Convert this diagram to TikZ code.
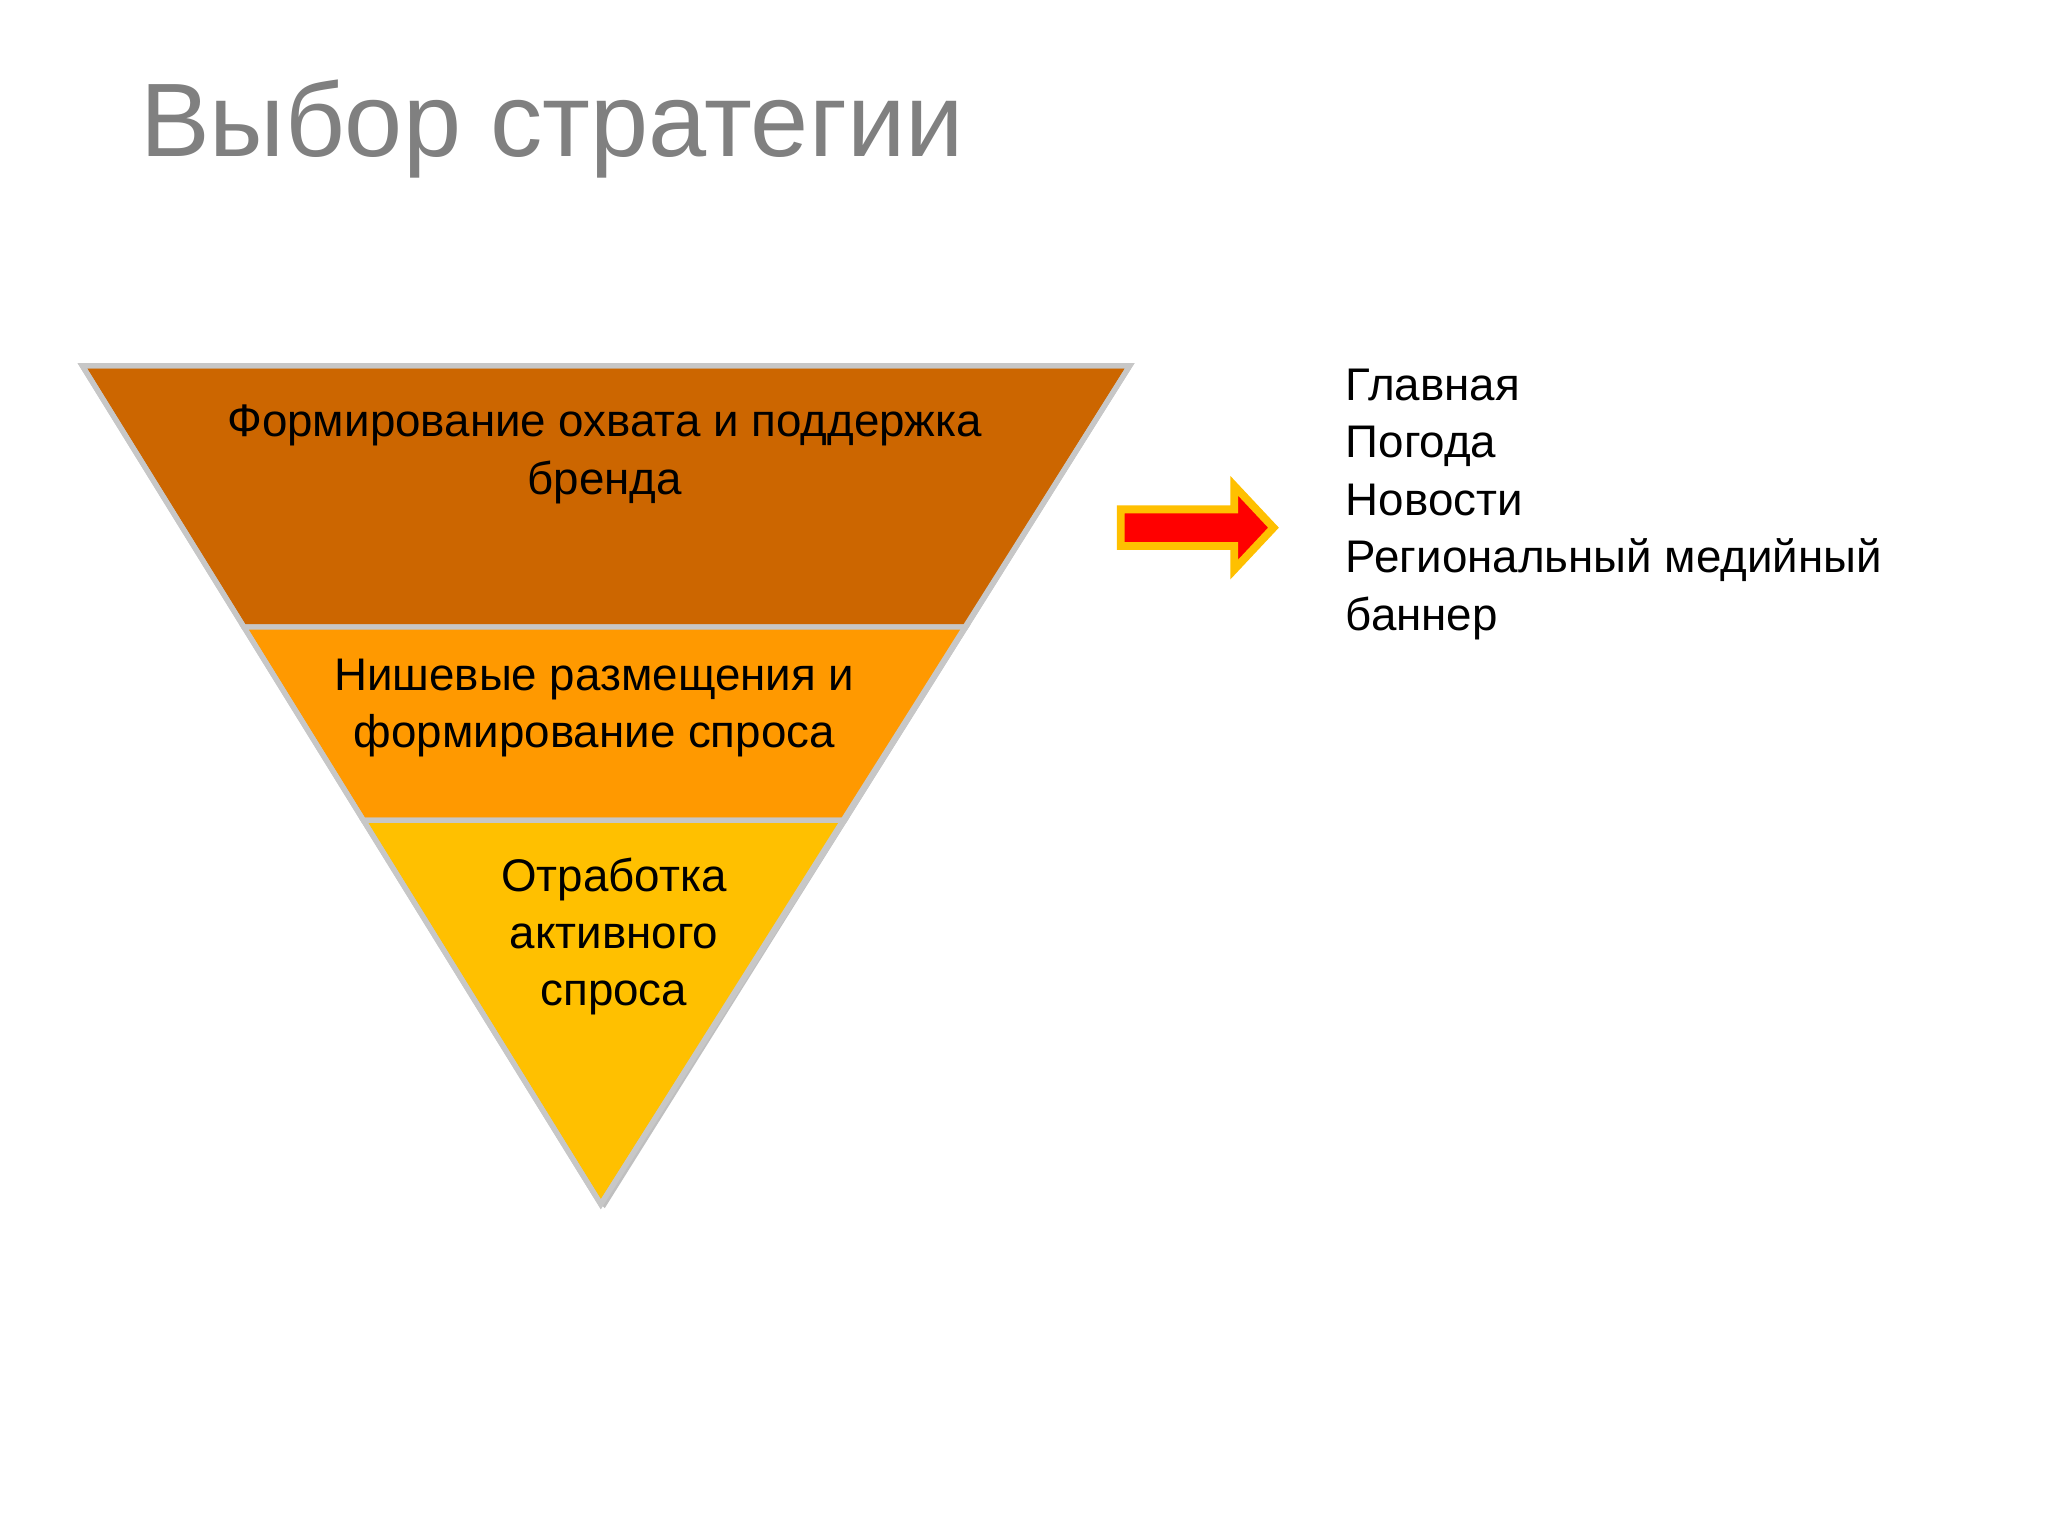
\documentclass[tikz,border=0pt]{standalone}
\usepackage{fontspec}
\setmainfont{Liberation Sans}
\begin{document}
\begin{tikzpicture}[x=0.5pt,y=-0.5pt,
  band/.style={draw=black!22,line width=2pt,line join=miter},
  txt/.style={font=\fontsize{17.5}{22}\selectfont,align=center,inner sep=0pt}]
\useasboundingbox (0,0) rectangle (1568,1176);
\fill[white] (0,0) rectangle (1568,1176);
\node[anchor=base west,text=black!50,font=\fontsize{40}{48}\selectfont,inner sep=0pt] (title) at (107,120) {Выбор стратегии};
% shadow
\fill[black!25] (867,280) -- (463,925) -- (460,922) -- (865,280) -- cycle;
\fill[band,fill={rgb,255:red,204;green,102;blue,0}] (63,280) -- (865,280) -- (739.5,480) -- (186.7,480) -- cycle;
\fill[band,fill={rgb,255:red,255;green,153;blue,0}] (186.7,480) -- (739.5,480) -- (646.6,628) -- (278.2,628) -- cycle;
\fill[band,fill={rgb,255:red,255;green,192;blue,0}] (278.2,628) -- (646.6,628) -- (460,922) -- cycle;
\draw[band] (63,280) -- (865,280) -- (460,922) -- cycle;
\node[txt] (b1) at (463,348) {Формирование охвата и поддержка\\бренда};
\node[txt] (b2) at (455,542) {Нишевые размещения и\\формирование спроса};
\node[txt] (b3) at (470,717) {Отработка\\активного\\спроса};
\draw[fill=red,draw={rgb,255:red,255;green,192;blue,0},line width=3pt,line join=miter]
  (858,390) -- (945,390) -- (945,372) -- (975,404) -- (945,436) -- (945,418) -- (858,418) -- cycle;
\node[anchor=north west,font=\fontsize{17.5}{22}\selectfont,align=left,inner sep=0pt] (list) at (1030,282)
 {Главная\\Погода\\Новости\\Региональный медийный\\баннер};
\end{tikzpicture}
\end{document}
